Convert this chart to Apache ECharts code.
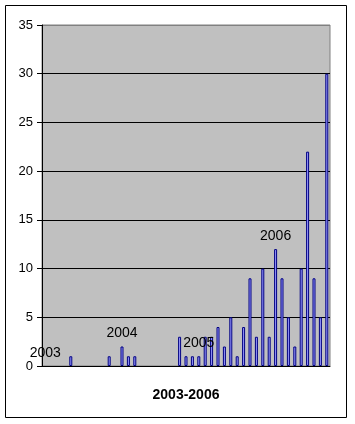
<!DOCTYPE html>
<html><head><meta charset="utf-8">
<script src="https://cdn.jsdelivr.net/npm/echarts@6/dist/echarts.min.js"></script>
<style>html,body{margin:0;padding:0;background:#fff}#c{width:355px;height:424px}</style>
</head><body><div id="c"></div>
<script>
var categories = [
 "2003-01","2003-02","2003-03","2003-04","2003-05","2003-06","2003-07","2003-08","2003-09","2003-10","2003-11","2003-12",
 "2004-01","2004-02","2004-03","2004-04","2004-05","2004-06","2004-07","2004-08","2004-09","2004-10","2004-11","2004-12",
 "2005-01","2005-02","2005-03","2005-04","2005-05","2005-06","2005-07","2005-08","2005-09","2005-10","2005-11","2005-12",
 "2006-01","2006-02","2006-03","2006-04","2006-05","2006-06","2006-07","2006-08","2006-09"];
var values = [0,0,0,0,1,0,0,0,0,0,1,0,
              2,1,1,0,0,0,0,0,0,3,1,1,
              1,3,3,4,2,5,1,4,9,3,10,3,
              12,9,5,2,10,22,9,5,30];
var yearLabelIndex = [0,12,24,36];
var yearLabels = ["2003","2004","2005","2006"];
var axisTitle = "2003-2006";

var data = values.map(function(v,i){
  var item = {value:v};
  if (v === 0) item.itemStyle = {borderWidth:0, color:'transparent'};
  var k = yearLabelIndex.indexOf(i);
  if (k >= 0) item.label = {show:true, position:'top', distance:6, formatter:yearLabels[k],
     color:'#000', fontSize:14, fontFamily:'Liberation Sans'};
  return item;
});
var chart = echarts.init(document.getElementById('c'));
chart.setOption({
  animation:false,
  textStyle:{fontFamily:'Liberation Sans'},
  grid:{left:42,right:25,top:25,bottom:58,show:true,backgroundColor:'#c0c0c0',borderColor:'#808080',borderWidth:1},
  graphic:[{type:'rect',shape:{x:5.5,y:5.5,width:341,height:412},style:{fill:null,stroke:'#000',lineWidth:1},z:100}],
  xAxis:{type:'category',data:categories,name:axisTitle,nameLocation:'middle',nameGap:22,
    nameTextStyle:{fontWeight:'bold',fontSize:14,color:'#000',fontFamily:'Liberation Sans'},
    axisLine:{show:true,lineStyle:{color:'#000'}},axisTick:{show:false},axisLabel:{show:false}},
  yAxis:{type:'value',min:0,max:35,interval:5,
    axisLine:{show:true,lineStyle:{color:'#000'}},
    axisTick:{show:true,length:5,lineStyle:{color:'#000'}},
    axisLabel:{color:'#000',fontSize:13,margin:9,fontFamily:'Liberation Sans'},
    splitLine:{show:true,lineStyle:{color:['#000','#000','#000','#000','#000','#000','#000','#808080'],width:1}}},
  series:[{type:'bar',data:data,barWidth:3,
    itemStyle:{color:'#9999ff',borderColor:'#000080',borderWidth:1}}]
});
</script></body></html>
